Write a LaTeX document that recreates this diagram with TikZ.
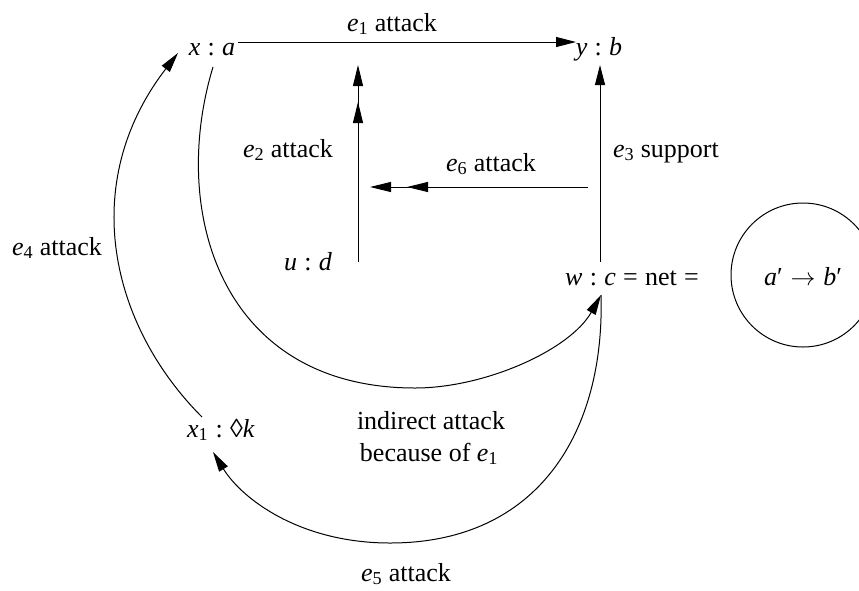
\documentclass[tikz,border=0pt]{standalone}
\usepackage{fontspec}
\setmainfont{Liberation Serif}
\usetikzlibrary{arrows.meta}
\newcommand\mi[1]{\textit{#1}}
\newcommand\cln{\hspace{0.28em}:\hspace{0.28em}}
\newcommand\rel[1]{\hspace{0.28em}#1\hspace{0.28em}}
\tikzset{
  txt/.style={inner sep=0pt, anchor=base},
  edge/.style={line width=1pt},
  onehead/.style={edge, -{Triangle[length=20pt,width=10pt]}},
  twohead/.style={edge, -{Triangle[length=21pt,width=10pt,sep=16pt]Triangle[length=21pt,width=10pt]}},
}
\begin{document}
\begin{tikzpicture}[x=1pt,y=-1pt,font=\fontsize{26}{31}\selectfont]
\useasboundingbox (0,0) rectangle (859,590);
\clip (0,0) rectangle (859,590);

% main nodes
\node[txt] (xa) at (212,55) {\mi{x}\cln\mi{a}};
\node[txt] (yb) at (599,55) {\mi{y}\cln\mi{b}};
\node[txt] (ud) at (308,270) {\mi{u}\cln\mi{d}};
\node[txt] (wc) at (632,285) {\mi{w}\cln\mi{c}\rel{=}net\rel{=}};
\node[txt] (x1) at (221,437) {\mi{x}\textsubscript{1}\cln◊\mi{k}};
\node[draw, edge, circle, minimum size=144pt, inner sep=0pt] (circ) at (803,275) {};
\node[txt] (ab) at (803,285) {\mi{a}′\hspace{0.3em}$\rightarrow$\hspace{0.3em}\mi{b}′};

% connector end points
\coordinate (e1s) at (238,42);
\coordinate (e1t) at (576,42);
\coordinate (e2s) at (358,262);
\coordinate (e2t) at (358,65);
\coordinate (e3s) at (600,262);
\coordinate (e3t) at (600,65);
\coordinate (e6s) at (588,187);
\coordinate (e6t) at (370,187);
\coordinate (e4s) at (202,417);
\coordinate (e4t) at (178,53);
\coordinate (ias) at (213,67);
\coordinate (iab) at (415,388);
\coordinate (iat) at (601,295);
\coordinate (e5s) at (601,295);
\coordinate (e5b) at (390,543);
\coordinate (e5t) at (213,452);

% connectors
\draw[onehead] (e1s) -- (e1t);
\draw[twohead] (e2s) -- (e2t);
\draw[onehead] (e3s) -- (e3t);
\draw[twohead] (e6s) -- (e6t);
\draw[onehead] (e4s) .. controls (111,326) and (77,184) .. (e4t);
\draw[onehead] (ias) .. controls (169,212) and (221,388) .. (iab)
                     .. controls (485,388) and (570,350) .. (iat);
\draw[onehead] (e5s) .. controls (605,431) and (539,543) .. (e5b)
                     .. controls (300,543) and (242,499) .. (e5t);

% labels
\node[txt] (l1) at (392,31) {\mi{e}\textsubscript{1} attack};
\node[txt] (l2) at (288,157) {\mi{e}\textsubscript{2} attack};
\node[txt] (l3) at (666,157) {\mi{e}\textsubscript{3} support};
\node[txt] (l6) at (491,171) {\mi{e}\textsubscript{6} attack};
\node[txt] (l4) at (57,255) {\mi{e}\textsubscript{4} attack};
\node[txt] (l5) at (406,581) {\mi{e}\textsubscript{5} attack};
\node[txt] (li1) at (431,429) {indirect attack};
\node[txt] (li2) at (429,461) {because of \mi{e}\textsubscript{1}};
\end{tikzpicture}
\end{document}
